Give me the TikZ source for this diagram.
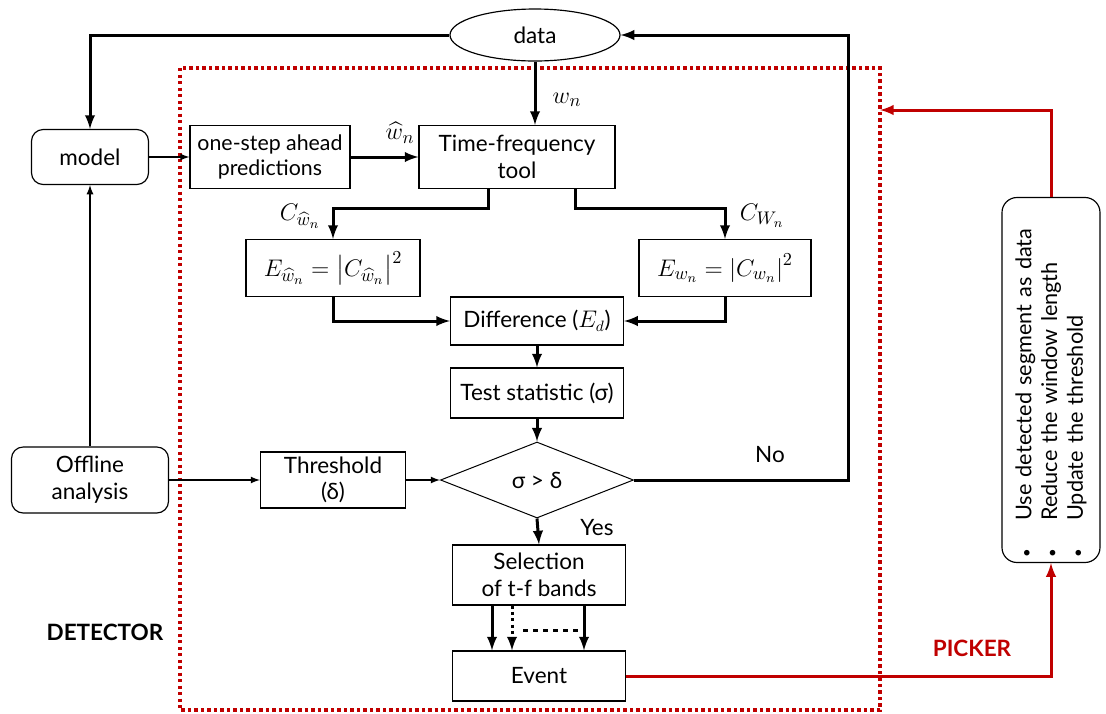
\documentclass[tikz,border=0pt]{standalone}
\usepackage{fontspec}
\setmainfont{Lato}
\usepackage{amsmath}
\usetikzlibrary{shapes.geometric}
\definecolor{pickred}{RGB}{192,0,0}

\begin{document}
\begin{tikzpicture}[x=0.6pt, y=-0.6pt, >=latex, font=\fontsize{13.5}{16}\selectfont,
    block/.style={rectangle, draw, line width=0.7pt, align=center, inner sep=2pt},
    rblock/.style={block, rounded corners=7pt},
    mathlbl/.style={font=\fontsize{15.5}{18}\selectfont},
    flow/.style={->, line width=1.8pt},
    thinflow/.style={->, line width=0.9pt}]
    \useasboundingbox (0,0) rectangle (1106,713);
    % detector frame
    \draw[pickred, line width=1.9pt, dotted] (180,68) rectangle (880,710);

    \node[ellipse, draw, line width=0.7pt, minimum width=102pt, minimum height=31.2pt] (data) at (535,35) {data};
    \node[rblock, minimum width=70.2pt, minimum height=33pt] (model) at (90,157) {model};
    \node[block, font=\fontsize{12.8}{15.5}\selectfont, minimum width=96pt, minimum height=37.8pt] (pred) at (270,157) {one-step ahead\\predictions};
    \node[block, minimum width=117.6pt, minimum height=37.8pt] (tf) at (517,157) {Time-frequency\\tool};
    \node[block, mathlbl, minimum width=104.4pt, minimum height=34.2pt] (ehat) at (333,268) {$E_{\widehat{w}_n} = \left|C_{\widehat{w}_n}\right|^2$};
    \node[block, mathlbl, minimum width=103.2pt, minimum height=34.2pt] (ew) at (725,268) {$E_{w_n} = \left|C_{w_n}\right|^2$};
    \node[block, minimum width=103.8pt, minimum height=28.8pt] (diff) at (537,321) {Difference ($E_d$)};
    \node[block, minimum width=103.8pt, minimum height=30pt] (test) at (537,393) {Test statistic (σ)};
    \node[diamond, draw, line width=0.6pt, minimum width=115.8pt, minimum height=45.6pt, inner sep=0pt] (dec) at (537,480) {σ > δ};
    \node[block, minimum width=87pt, minimum height=33.6pt] (thr) at (333,480) {Threshold\\(δ)};
    \node[rblock, minimum width=94.2pt, minimum height=39.6pt] (offline) at (90,480) {Offline\\analysis};
    \node[block, minimum width=103.8pt, minimum height=36pt] (sel) at (539,575) {Selection\\of t-f bands};
    \node[block, minimum width=103.8pt, minimum height=30pt] (event) at (539,676) {Event};
    \node[rectangle, draw, line width=0.7pt, rounded corners=9pt, rotate=90, minimum width=219pt,
          minimum height=58.8pt, align=left, text width=213pt, inner xsep=3pt,
          font=\fontsize{13}{15.5}\selectfont] (picker) at (1051,380)
          {{\small\textbullet}\hspace{1.3em}Use detected segment as data\\
           {\small\textbullet}\hspace{1.3em}Reduce the window length\\
           {\small\textbullet}\hspace{1.3em}Update the threshold};

    % labels
    \node[mathlbl] (wn) at (567,100) {$w_n$};
    \node[mathlbl] (wnhat) at (400,133) {$\widehat{w}_n$};
    \node[mathlbl] (cwhat) at (300,216) {$C_{\widehat{w}_n}$};
    \node[mathlbl] (cw) at (762,216) {$C_{W_n}$};
    \node (no) at (770,455) {No};
    \node (yes) at (597,528) {Yes};
    \node[font=\fontsize{13.5}{16}\selectfont\bfseries] (det) at (105,632) {DETECTOR};
    \node[font=\fontsize{13.5}{16}\selectfont\bfseries, pickred] (pick) at (972,648) {PICKER};

    % connectors
    \coordinate (nocorner) at (848,480);
    \coordinate (pickin) at (880,110);
    \draw[flow] (data.west) -| (model.north);
    \draw[thinflow] (offline.north) -- (model.south);
    \draw[flow] (data.south) -- (data.south |- tf.north);
    \draw[thinflow] (model) -- (pred);
    \draw[flow] (pred) -- (tf);
    \draw[flow] ([xshift=-17.4pt]tf.south) -- ++(0,19) -| (ehat.north);
    \draw[flow] ([xshift=34.8pt]tf.south) -- ++(0,19) -| (ew.north);
    \draw[flow] (ehat.south) |- (diff.west);
    \draw[flow] (ew.south) |- (diff.east);
    \draw[flow] (diff) -- (test);
    \draw[flow] (test) -- (dec);
    \draw[thinflow] (offline) -- (thr);
    \draw[thinflow] (thr) -- (dec);
    \draw[flow] (dec.east) -- (nocorner) |- (data.east);
    \draw[flow] (dec.south) -- (sel.north);
    \draw[flow] ([xshift=-28.2pt]sel.south) -- ([xshift=-28.2pt]event.north);
    \draw[flow, dotted] ([xshift=-16.2pt]sel.south) -- ([xshift=-16.2pt]event.north);
    \draw[flow] ([xshift=27pt]sel.south) -- ([xshift=27pt]event.north);
    \draw[line width=1.8pt, dashed] (523,630) -- (578,630);
    \draw[->, pickred, line width=1.8pt] (event.east) -| (picker.west);
    \draw[->, pickred, line width=1.8pt] (picker.east) |- (pickin);
\end{tikzpicture}
\end{document}
